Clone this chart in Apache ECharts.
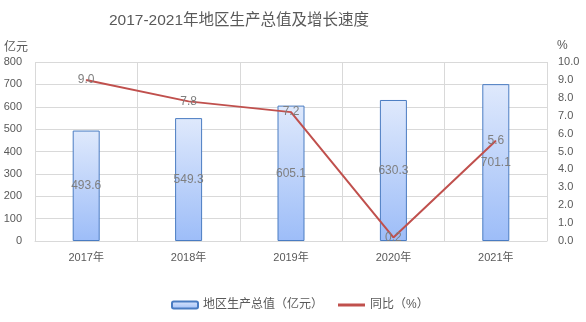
<!DOCTYPE html>
<html><head><meta charset="utf-8">
<script src="https://cdn.jsdelivr.net/npm/echarts@6/dist/echarts.min.js"></script>
<style>html,body{margin:0;padding:0;background:#fff}#c{width:586px;height:322px}</style>
</head><body><div id="c"></div>
<script>
const categories = ['2017年','2018年','2019年','2020年','2021年'];
const gdpValues = [493.6, 549.3, 605.1, 630.3, 701.1];
const growthValues = [9.0, 7.8, 7.2, 0.2, 5.6];
const titleText = '2017-2021年地区生产总值及增长速度';
const seriesNames = ['地区生产总值（亿元）', '同比（%）'];
const leftUnit = '亿元';
const rightUnit = '%';

const FONT = '"Liberation Sans", "Noto Sans CJK SC", sans-serif';
const chart = echarts.init(document.getElementById('c'));
const legendText = { fontFamily: FONT, fontSize: 12, color: '#595959' };
chart.setOption({
  animation: false,
  backgroundColor: '#fff',
  title: { text: titleText, left: 234, textAlign: 'center', top: 8,
    textStyle: { fontFamily: FONT, fontSize: 15.5, fontWeight: 'normal', color: '#595959' } },
  graphic: [
    { type: 'text', left: 4, top: 40, style: { text: leftUnit, font: '12px "Noto Sans CJK SC"', fill: '#595959' } },
    { type: 'text', left: 557, top: 40, style: { text: rightUnit, font: '12px "Liberation Sans"', fill: '#595959' } }
  ],
  legend: [
    { left: 166, bottom: 6, itemWidth: 26, itemHeight: 7, textStyle: legendText,
      data: [{ name: seriesNames[0] }] },
    { left: 333, bottom: 6, itemWidth: 27, itemHeight: 3, textStyle: legendText,
      data: [{ name: seriesNames[1], icon: 'rect', itemStyle: { color: '#c0504d' } }] }
  ],
  grid: { left: 35, right: 39, top: 62, bottom: 81 },
  xAxis: {
    type: 'category', data: categories, boundaryGap: true,
    axisLine: { lineStyle: { color: '#d9d9d9' } }, axisTick: { show: false },
    splitLine: { show: true, lineStyle: { color: '#d9d9d9' } },
    axisLabel: { color: '#595959', fontFamily: FONT, fontSize: 11, margin: 11 }
  },
  yAxis: [
    { type: 'value', min: 0, max: 800, interval: 100,
      axisLine: { show: false }, axisTick: { show: false },
      splitLine: { lineStyle: { color: '#d9d9d9' } },
      axisLabel: { color: '#595959', fontFamily: FONT, fontSize: 11, margin: 13 } },
    { type: 'value', min: 0, max: 10, interval: 1,
      axisLine: { show: false }, axisTick: { show: false }, splitLine: { show: false },
      axisLabel: { color: '#595959', fontFamily: FONT, fontSize: 11, margin: 11, formatter: v => v.toFixed(1) } }
  ],
  series: [
    { name: seriesNames[0], type: 'bar', data: gdpValues, barWidth: 27, yAxisIndex: 0,
      itemStyle: { borderColor: '#4a7cc2', borderWidth: 1,
        color: new echarts.graphic.LinearGradient(0, 0, 0, 1, [{ offset: 0, color: '#dfe9fc' }, { offset: 1, color: '#9dbdf8' }]) },
      label: { show: true, position: 'inside', color: '#7f7f7f', fontFamily: FONT, fontSize: 12, formatter: p => p.value.toFixed(1) } },
    { name: seriesNames[1], type: 'line', data: growthValues, yAxisIndex: 1,
      symbol: 'circle', symbolSize: 1, showSymbol: true, z: 3,
      lineStyle: { color: '#c0504d', width: 2 }, itemStyle: { color: '#c0504d' },
      label: { show: true, position: 'inside', color: '#7f7f7f', fontFamily: FONT, fontSize: 12, formatter: p => p.value.toFixed(1) } }
  ]
});
</script></body></html>
